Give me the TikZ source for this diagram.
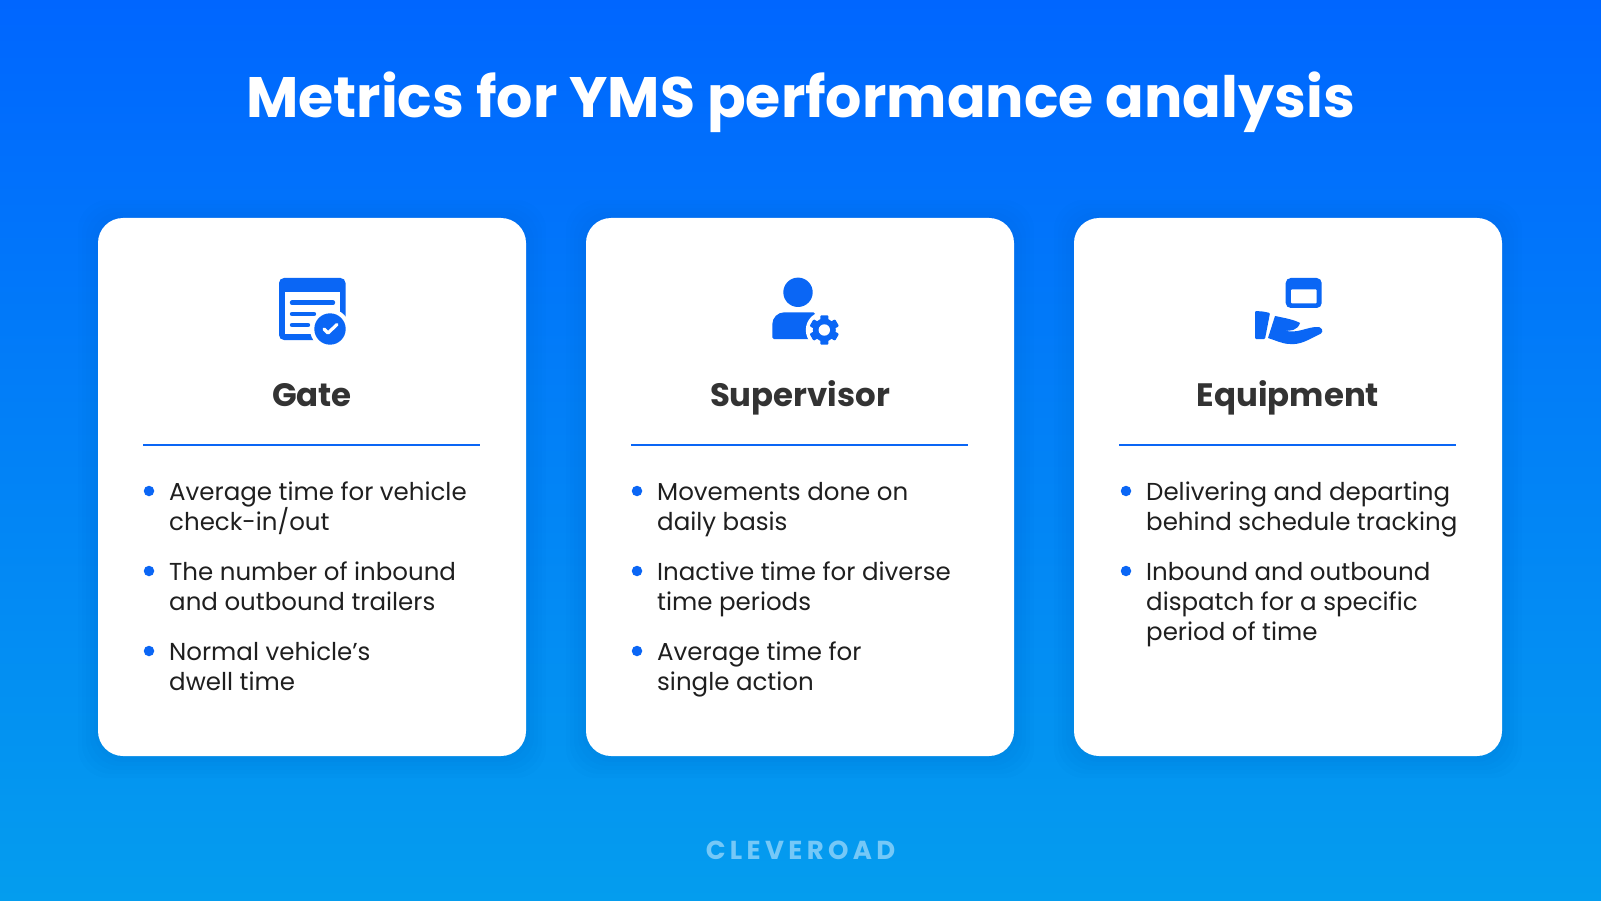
\documentclass[tikz,border=0pt]{standalone}
\usepackage{fontspec}
\setmainfont{Poppins}
\definecolor{bluetop}{HTML}{0066FF}
\definecolor{bluebottom}{HTML}{049DEE}
\definecolor{blueicon}{HTML}{0A66F5}
\definecolor{darktext}{HTML}{333333}
\definecolor{logotext}{HTML}{75C8F7}
\tikzset{
    card/.style={fill=white, rounded corners=25pt, minimum width=428pt, minimum height=538pt, inner sep=0pt},
    glow/.style={fill=black, fill opacity=0.008, rounded corners=30pt, minimum width=428pt+#1, minimum height=538pt+#1, inner sep=0pt},
    heading/.style={text=darktext, font=\fontsize{32.4}{36}\selectfont\bfseries, anchor=base},
    item/.style={text=black!88, font={\fontsize{24.5}{30}\selectfont\lineskiplimit=-20pt\relax}, align=left, anchor=north west, inner sep=0pt},
    dot/.style={circle, fill=blueicon, minimum size=10.5pt, inner sep=0pt},
    rule/.style={draw=blueicon, line width=2pt},
    icon/.style={fill=blueicon, draw=none},
    iconline/.style={draw=blueicon, line width=4.4pt, line cap=round},
}
\begin{document}
\begin{tikzpicture}[x=1pt,y=-1pt]
        % background
        \useasboundingbox (0,0) rectangle (1601,901);
        \fill[top color=bluetop, bottom color=bluebottom] (0,0) rectangle (1601,901);

        % title
        \node [text=white, font=\fontsize{57}{70}\selectfont\bfseries] (title) at (800.5,102.5){Metrics for YMS performance analysis};

        % soft edge round the cards
        \foreach \g in {8,16,24,32,40} {
            \node [glow=\g pt] at (312,489){};
            \node [glow=\g pt] at (800,489){};
            \node [glow=\g pt] at (1288,489){};
        }

        % cards
        \node [card] (gatecard) at (312,487){};
        \node [card] (supervisorcard) at (800,487){};
        \node [card] (equipmentcard) at (1288,487){};

        % Gate icon
        \fill[icon, rounded corners=5pt] (279,278) rectangle (345.5,340);
        \fill[white] (284.5,292) rectangle (340,334);
        \fill[white] (330,329) circle (20);
        \fill[blueicon] (330,329) circle (15.7);
        \draw[white, line width=3.2pt, line cap=round, line join=round] (324,329) -- (328,333) -- (337,324.5);
        \draw[iconline] (292,302.7) -- (333,302.7);
        \draw[iconline] (292,314) -- (314,314);
        \draw[iconline] (292,325) -- (308,325);

        % Supervisor icon
        \fill[icon] (798,292.3) circle (14.7);
        \fill[icon, rounded corners=1.5pt] (772.3,339) -- (772.3,325) [rounded corners=12pt] -- (772.3,312.3) [rounded corners=1.5pt] -- (815,312.3) -- (815,339) -- cycle;
        \fill[white] (824.3,330) circle (18.5);
        \fill[blueicon] (824.3,330) circle (11.5);
        \foreach \a in {0,60,...,300} {
            \fill[blueicon, rounded corners=1pt, rotate around={\a:(824.3,330)}] (820.3,315.3) rectangle (828.3,322);
        }
        \fill[white] (824.3,330) circle (5.7);

        % Equipment icon
        \fill[icon, rounded corners=5pt] (1285.7,278) rectangle (1321.7,308);
        \fill[white, rounded corners=1pt] (1291,289.3) rectangle (1316.7,303.3);
        \fill[icon, rounded corners=1pt] (1255,311) -- (1263,311.5) -- (1270,313) -- (1265,339) -- (1255,339) -- cycle;
        \fill[icon] (1275,316) .. controls (1285,318) and (1295,320) .. (1300,323) .. controls (1298,330) and (1290,332) .. (1284,330)
            .. controls (1296,335) and (1308,326) .. (1319,327) .. controls (1325,330) and (1322,334) .. (1318,335)
            .. controls (1308,340) and (1300,345) .. (1290,344) .. controls (1282,344) and (1275,340) .. (1268,338) -- cycle;

        % Gate
        \node [heading] (gatehead) at (312,406.5){Gate};
        \draw[rule] (143,444.5) coordinate (gateleft) -- (480,444.5) coordinate (gateright);
        \node [dot] (gatedota) at (149,491){};
        \node [item] (gateitema) at (169,481.8){Average time for vehicle\\check-in/out};
        \node [dot] (gatedotb) at (149,571){};
        \node [item] (gateitemb) at (169,561.8){The number of inbound\\and outbound trailers};
        \node [dot] (gatedotc) at (149,651){};
        \node [item] (gateitemc) at (169,641.8){Normal vehicle’s\\dwell time};

        % Supervisor
        \node [heading] (supervisorhead) at (800,406.5){Supervisor};
        \draw[rule] (631,444.5) coordinate (supervisorleft) -- (968,444.5) coordinate (supervisorright);
        \node [dot] (supervisordota) at (637,491){};
        \node [item] (supervisoritema) at (657,481.8){Movements done on\\daily basis};
        \node [dot] (supervisordotb) at (637,571){};
        \node [item] (supervisoritemb) at (657,561.8){Inactive time for diverse\\time periods};
        \node [dot] (supervisordotc) at (637,651){};
        \node [item] (supervisoritemc) at (657,641.8){Average time for\\single action};

        % Equipment
        \node [heading] (equipmenthead) at (1288,406.5){Equipment};
        \draw[rule] (1119,444.5) coordinate (equipmentleft) -- (1456,444.5) coordinate (equipmentright);
        \node [dot] (equipmentdota) at (1126,491){};
        \node [item] (equipmentitema) at (1146,481.8){Delivering and departing\\behind schedule tracking};
        \node [dot] (equipmentdotb) at (1126,571){};
        \node [item] (equipmentitemb) at (1146,561.8){Inbound and outbound\\dispatch for a specific\\period of time};

        % logo
        \node [text=logotext, font=\fontsize{26}{30}\selectfont\bfseries] (logo) at (800.5,850){C\,L\,E\,V\,E\,R\,O\,A\,D};
\end{tikzpicture}
\end{document}
